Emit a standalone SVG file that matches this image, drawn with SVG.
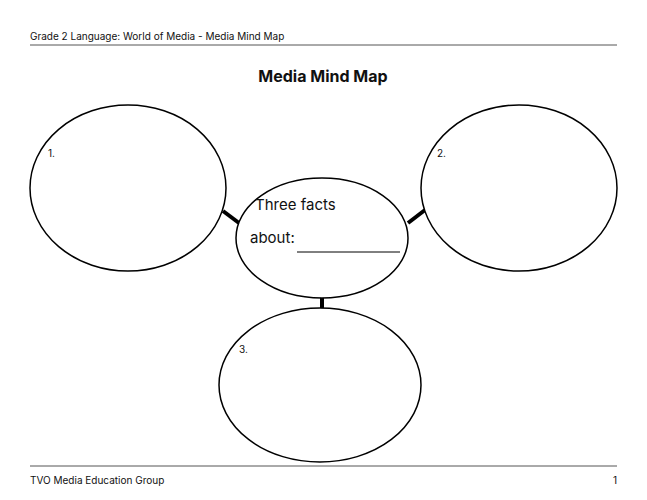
<svg xmlns="http://www.w3.org/2000/svg" width="647" height="500" viewBox="0 0 647 500">
<style>
text{font-family:"Inter","Liberation Sans",sans-serif;fill:#111}
.s{font-size:10px}
.e{fill:#fff;stroke:#000;stroke-width:1.5}
.c{stroke:#000;stroke-width:4}
</style>
<rect width="647" height="500" fill="#fff"/>
<text class="s" x="30" y="40">Grade 2 Language: World of Media - Media Mind Map</text>
<line x1="30" y1="45" x2="617" y2="45" stroke="#555" stroke-width="1"/>
<text x="323" y="82" text-anchor="middle" font-size="16" font-weight="bold">Media Mind Map</text>
<g id="connectors">
<line class="c" x1="223" y1="211" x2="239" y2="223"/>
<line class="c" x1="408" y1="223" x2="425" y2="210"/>
<line class="c" x1="322" y1="296" x2="322" y2="309"/>
</g>
<g id="n1"><ellipse class="e" cx="128" cy="188" rx="98" ry="83"/><text class="s" x="48" y="157">1.</text></g>
<g id="n2"><ellipse class="e" cx="519" cy="188" rx="98" ry="83"/><text class="s" x="437" y="157">2.</text></g>
<g id="center"><ellipse class="e" cx="322" cy="238" rx="86" ry="60"/>
<text x="255" y="210" font-size="15">Three facts</text>
<text x="250" y="243" font-size="15">about:</text>
<line x1="297" y1="252" x2="400" y2="252" stroke="#000" stroke-width="1"/></g>
<g id="n3"><ellipse class="e" cx="320" cy="385" rx="101" ry="77"/><text class="s" x="239" y="353">3.</text></g>
<line x1="30" y1="466" x2="617" y2="466" stroke="#555" stroke-width="1"/>
<text class="s" x="30" y="484">TVO Media Education Group</text>
<text class="s" x="617" y="484" text-anchor="end">1</text>
</svg>
